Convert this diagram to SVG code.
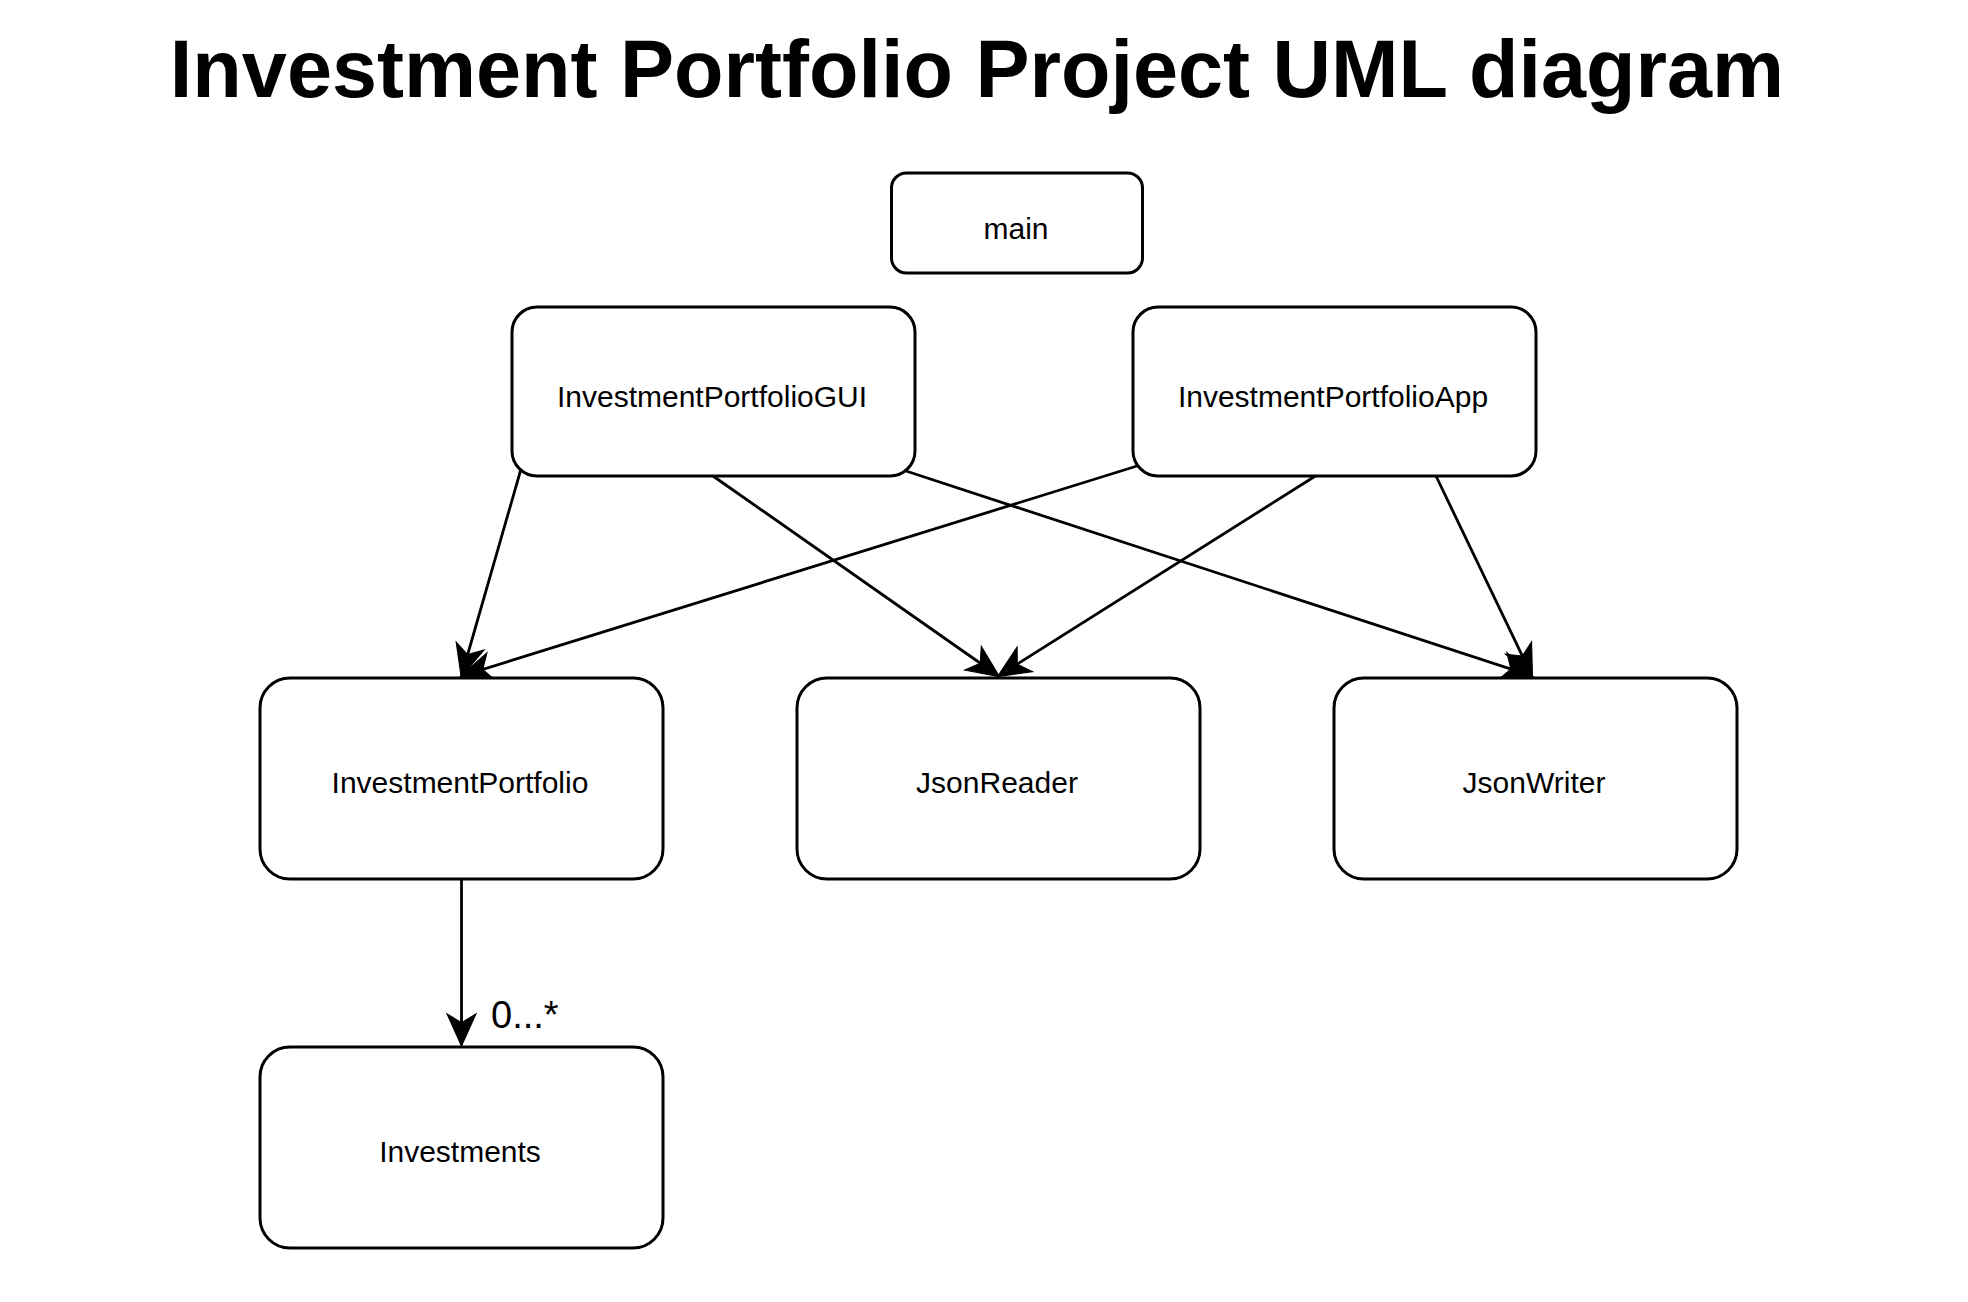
<svg xmlns="http://www.w3.org/2000/svg" width="1968" height="1302" viewBox="0 0 1968 1302">
<style>
.box{fill:#fff;stroke:#000;stroke-width:3}
.lbl{font-family:"Liberation Sans",Arial,sans-serif;font-size:30px;fill:#000;text-anchor:middle}
.edge{stroke:#000;stroke-width:2.8;fill:none;marker-end:url(#arr)}
</style>
<defs>
<marker id="arr" markerUnits="userSpaceOnUse" markerWidth="40" markerHeight="40" viewBox="-32 -16 36 32" refX="0" refY="0" orient="auto">
<path d="M1,0 L-28,-13 L-20,0 L-28,13 Z" fill="#000" stroke="#000" stroke-width="1"/>
</marker>
</defs>
<rect width="1968" height="1302" fill="#fff"/>
<text x="977" y="97" font-family="'Liberation Sans',Arial,sans-serif" font-size="81" font-weight="bold" text-anchor="middle">Investment Portfolio Project UML diagram</text>
<g id="connectors">
<line class="edge" x1="521" y1="469" x2="461.5" y2="676"/>
<line class="edge" x1="1137" y1="466" x2="461.5" y2="676"/>
<line class="edge" x1="713" y1="476" x2="998.5" y2="676"/>
<line class="edge" x1="1317" y1="475" x2="998.5" y2="676"/>
<line class="edge" x1="906" y1="471" x2="1532" y2="676"/>
<line class="edge" x1="1436" y1="476" x2="1532" y2="676"/>
<line class="edge" x1="461.5" y1="879" x2="461.5" y2="1045"/>
<text x="491" y="1028" font-family="'Liberation Sans',Arial,sans-serif" font-size="38">0...*</text>
</g>
<g id="main"><rect class="box" x="891.5" y="173" width="251" height="100" rx="15"/><text class="lbl" x="1016" y="239">main</text></g>
<g id="gui"><rect class="box" x="512" y="307" width="403" height="169" rx="25"/><text class="lbl" x="712" y="407">InvestmentPortfolioGUI</text></g>
<g id="app"><rect class="box" x="1133" y="307" width="403" height="169" rx="25"/><text class="lbl" x="1333" y="407">InvestmentPortfolioApp</text></g>
<g id="portfolio"><rect class="box" x="260" y="678" width="403" height="201" rx="30"/><text class="lbl" x="460" y="793">InvestmentPortfolio</text></g>
<g id="reader"><rect class="box" x="797" y="678" width="403" height="201" rx="30"/><text class="lbl" x="997" y="793">JsonReader</text></g>
<g id="writer"><rect class="box" x="1334" y="678" width="403" height="201" rx="30"/><text class="lbl" x="1534" y="793">JsonWriter</text></g>
<g id="investments"><rect class="box" x="260" y="1047" width="403" height="201" rx="30"/><text class="lbl" x="460" y="1162">Investments</text></g>
</svg>
